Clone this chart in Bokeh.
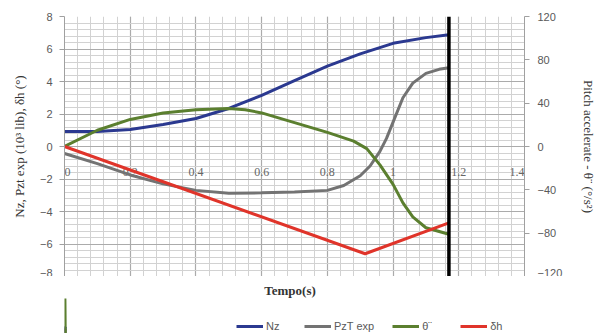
from bokeh.plotting import figure
from bokeh.layouts import column
from bokeh.models import (Range1d, LinearAxis, FixedTicker, Span, Legend, LegendItem)
from bokeh.core.properties import value
from bokeh.embed import file_html
from bokeh.resources import INLINE

# ---- data ----
t_nz = [0, 0.1, 0.2, 0.3, 0.4, 0.5, 0.6, 0.7, 0.8, 0.9, 1.0, 1.1, 1.17]
nz = [0.92, 0.93, 1.05, 1.35, 1.72, 2.34, 3.15, 4.05, 4.95, 5.7, 6.35, 6.7, 6.88]

t_pzt = [0, 0.1, 0.2, 0.3, 0.4, 0.5, 0.6, 0.7, 0.8, 0.85, 0.9, 0.93, 0.96, 0.98, 1.0, 1.03, 1.06, 1.1, 1.14, 1.17]
pzt = [-0.43, -1.05, -1.75, -2.3, -2.7, -2.88, -2.85, -2.8, -2.7, -2.4, -1.8, -1.2, -0.3, 0.5, 1.5, 3.0, 3.9, 4.5, 4.75, 4.85]

t_theta = [0, 0.1, 0.2, 0.3, 0.4, 0.5, 0.55, 0.6, 0.7, 0.8, 0.88, 0.92, 0.96, 1.0, 1.03, 1.06, 1.1, 1.17]
theta_dd = [0, 15, 25, 31, 34, 35, 34, 31, 22, 13, 5, -2, -17, -35, -52, -65, -75, -81]

t_dh = [0, 0.915, 1.17]
dh = [0, -6.6, -4.7]

t_end = 1.17

x_ticks = [0, 0.2, 0.4, 0.6, 0.8, 1.0, 1.2, 1.4]
x_tick_labels = ["0", "0.2", "0.4", "0.6", "0.8", "1", "1.2", "1.4"]
y_ticks = [-8, -6, -4, -2, 0, 2, 4, 6, 8]
y2_ticks = [-120, -80, -40, 0, 40, 80, 120]

series_names = ["Nz", "PzT exp", "θ¨", "δh"]
x_title = "Tempo(s)"
colors = ["#2B3990", "#737373", "#5B7F2F", "#E0342A"]

GRAY = "#595959"

# ---------------- main chart ----------------
p = figure(frame_width=460, frame_height=260, output_backend="svg", toolbar_location=None,
           x_range=Range1d(0, 1.4), y_range=Range1d(-8, 8), x_axis_location=None,
           min_border_left=64, min_border_right=73, min_border_top=16, min_border_bottom=0)
p.outline_line_color = None
p.background_fill_color = "white"
p.border_fill_color = "white"

minor_x = [round(i * 0.04, 2) for i in range(0, 36)]
minor_y = [round(-8 + i * 0.4, 2) for i in range(0, 41)]
p.xgrid.ticker = FixedTicker(ticks=x_ticks, minor_ticks=minor_x)
p.ygrid.ticker = FixedTicker(ticks=y_ticks, minor_ticks=minor_y)
for g in (p.xgrid, p.ygrid):
    g.grid_line_color = "#ababab"
    g.grid_line_width = 1.2
    g.minor_grid_line_color = "#d2d2d2"
    g.minor_grid_line_width = 1

# left axis
ya = p.yaxis[0]
ya.ticker = FixedTicker(ticks=y_ticks)
ya.axis_line_color = "#a0a0a0"
ya.major_tick_line_color = "#a0a0a0"
ya.major_tick_out = 5
ya.major_tick_in = 0
ya.minor_tick_line_color = None
ya.major_label_text_font = "Liberation Sans"
ya.major_label_text_font_size = "11px"
ya.major_label_text_color = GRAY
ya.major_label_standoff = 7
ya.axis_label = "Nz, Pzt exp (10³ lib), δh (°)"
ya.axis_label_text_font = "Liberation Serif"
ya.axis_label_text_font_style = "normal"
ya.axis_label_text_font_size = "13px"
ya.axis_label_text_color = "#333333"
ya.axis_label_standoff = 10

# right axis
p.extra_y_ranges = {"acc": Range1d(-120, 120)}
ra = LinearAxis(y_range_name="acc", ticker=FixedTicker(ticks=y2_ticks))
ra.axis_line_color = "#a0a0a0"
ra.major_tick_line_color = "#a0a0a0"
ra.major_tick_out = 5
ra.major_tick_in = 0
ra.minor_tick_line_color = None
ra.major_label_text_font = "Liberation Sans"
ra.major_label_text_font_size = "11px"
ra.major_label_text_color = GRAY
ra.major_label_standoff = 8
ra.axis_label = "Pitch accelerate - θ¨ (°/s²)"
ra.axis_label_text_font = "Liberation Serif"
ra.axis_label_text_font_style = "normal"
ra.axis_label_text_font_size = "13px"
ra.axis_label_text_color = "#333333"
ra.axis_label_standoff = 16
p.add_layout(ra, "right")

# x tick labels where the axis crosses y = 0
n = len(x_ticks)
aligns = ["left"] + ["center"] * (n - 2) + ["right"]
p.text(x=x_ticks, y=[0] * n, text=x_tick_labels,
       text_font=value("Liberation Serif"), text_font_size="12px",
       text_color="#666666", text_align=aligns, text_baseline="middle",
       y_offset=25)

# series
p.line(t_nz, nz, line_color=colors[0], line_width=3)
p.line(t_pzt, pzt, line_color=colors[1], line_width=3)
p.line(t_theta, theta_dd, line_color=colors[2], line_width=3, y_range_name="acc")
p.line(t_dh, dh, line_color=colors[3], line_width=3)

p.add_layout(Span(location=t_end, dimension="height", line_color="black", line_width=3.5))

# ---------------- bottom strip: x title + legend ----------------
f = figure(width=597, height=57, output_backend="svg", toolbar_location=None,
           x_range=Range1d(0, 597), y_range=Range1d(0, 57),
           x_axis_location=None, y_axis_location=None, min_border=0)
f.outline_line_color = None
f.xgrid.visible = False
f.ygrid.visible = False
f.border_fill_color = "white"
f.background_fill_color = "white"

f.text(x=[294], y=[43], text=[x_title], text_font=value("Liberation Serif"),
       text_font_style="bold", text_font_size="13px", text_color="#333333",
       text_align="center", text_baseline="middle")

# legend swatches (series re-drawn outside this strip's visible range)
lr = [f.line(t_nz, nz, line_color=colors[0], line_width=3),
      f.line(t_pzt, pzt, line_color=colors[1], line_width=3),
      f.line(t_theta, theta_dd, line_color=colors[2], line_width=3),
      f.line(t_dh, dh, line_color=colors[3], line_width=3)]

legend = Legend(items=[LegendItem(label=s, renderers=[r]) for s, r in zip(series_names, lr)],
                orientation="horizontal", location=(172, 1),
                label_text_font="Liberation Sans", label_text_font_size="11px",
                label_text_color=GRAY, glyph_width=27, glyph_height=10,
                spacing=18, label_standoff=3, border_line_color=None,
                background_fill_alpha=0, margin=0, padding=2)
f.add_layout(legend, "center")

layout = column(p, f, spacing=0)
open("out.html", "w").write(file_html(layout, INLINE))
